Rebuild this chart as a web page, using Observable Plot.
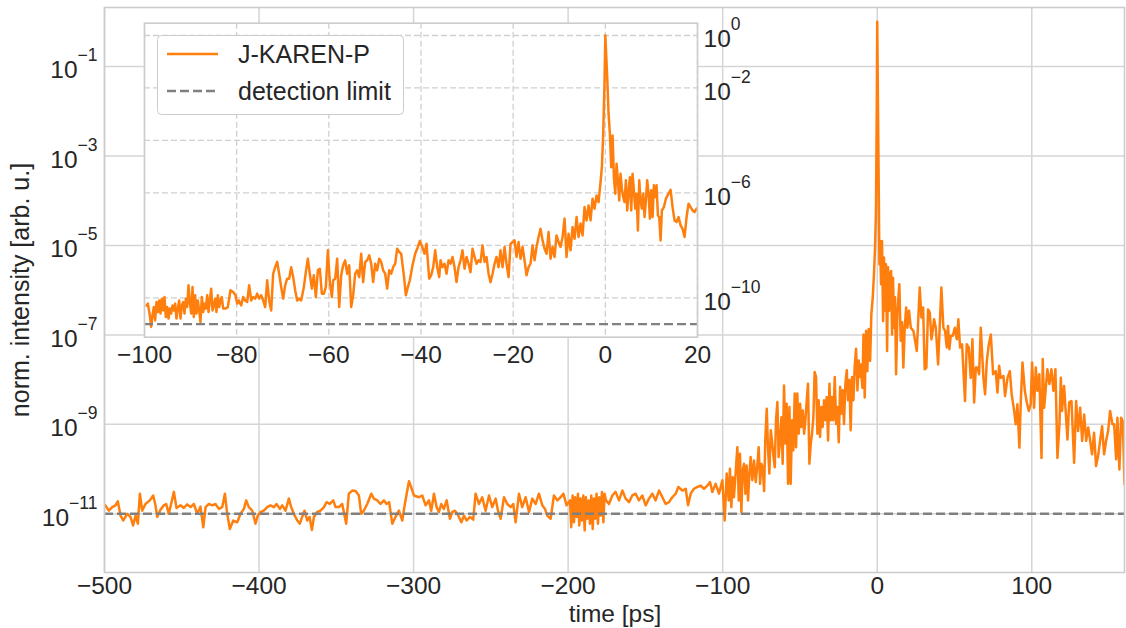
<!DOCTYPE html>
<html><head><meta charset="utf-8">
<script src="https://cdn.jsdelivr.net/npm/d3@7"></script>
<script src="https://cdn.jsdelivr.net/npm/@observablehq/plot@0.6"></script>
<style>
body{margin:0;background:#fff;}
#wrap{position:relative;width:1126px;height:628px;overflow:hidden;font-family:"Liberation Sans",Arial,sans-serif;}
#main,#inset,#legend{position:absolute;left:0;top:0;}
svg{overflow:visible}
</style></head><body>
<div id="wrap"><div id="main"></div><div id="inset"></div><div id="legend"></div></div>
<script>
// ---------- data (time in ps, log10 of normalized intensity) ----------
const mainTime = [
-499.4,-497.2,-495.0,-492.9,-491.4,-489.6,-487.9,-485.3,-483.2,-481.5,
-479.9,-478.4,-477.1,-475.6,-473.5,-470.7,-468.5,-467.0,-465.9,-463.8,
-461.6,-460.1,-458.4,-456.9,-455.1,-453.4,-450.8,-448.7,-446.5,-444.3,
-442.2,-440.0,-437.9,-436.1,-434.6,-432.5,-430.3,-428.2,-426.0,-423.8,
-422.1,-420.6,-418.9,-416.7,-414.1,-412.0,-409.8,-408.3,-406.6,-404.4,
-402.3,-400.8,-399.0,-396.9,-394.7,-392.6,-390.4,-388.7,-386.5,-385.0,
-382.9,-380.7,-379.2,-377.5,-375.3,-373.6,-372.1,-370.6,-368.8,-367.3,
-365.8,-364.5,-362.4,-360.2,-358.0,-356.3,-354.2,-352.0,-350.5,-348.3,
-346.2,-343.6,-341.9,-339.7,-337.5,-335.4,-333.9,-332.2,-330.0,-327.4,
-325.7,-323.5,-321.4,-319.2,-317.5,-315.8,-313.8,-311.7,-309.5,-307.3,
-305.8,-303.0,
-301.9,-299.8,-296.5,-294.4,-292.2,-290.1,-288.6,-286.8,-285.1,-283.6,
-282.1,-280.4,-278.6,-276.5,-275.0,-273.3,-271.7,-269.1,-267.4,-265.7,
-263.5,-261.4,-259.9,-257.7,-255.6,-253.4,-251.2,-249.1,-246.9,-245.4,
-243.7,-241.5,-239.4,-237.2,-235.5,-234.0,-231.8,-229.7,-227.5,-225.3,
-223.2,-221.0,-218.9,-216.7,-215.0,-213.5,-211.3,-209.2,-207.0,-204.9,
-203.1,-201.0,-198.8,-198.0,-197.1,-196.2,-195.4,-194.5,-193.6,-192.8,
-191.9,-191.0,-190.2,-189.3,-188.5,-187.6,-186.7,-185.9,-185.0,-184.1,
-183.3,-182.4,-181.6,-180.7,-179.8,-179.0,-178.1,-177.2,-176.4,-175.5,
-173.6,-171.4,-169.3,-167.1,-164.9,-162.8,-160.6,-158.5,-156.3,-154.2,
-152.0,-149.8,-147.7,-145.5,-143.4,-141.2,-139.0,-136.9,-134.7,-132.6,
-130.4,-128.7,-126.1,-123.9,-122.4,-120.7,-118.6,-116.4,-114.2,-112.1,
-109.9,-108.2,-106.7,-104.5,-102.4,-100.2,
-98.7,-97.4,-96.1,-95.3,-94.4,-93.5,-92.7,-91.6,-90.5,-89.6,
-88.8,-87.9,-87.1,-86.2,-85.3,-84.5,-83.6,-82.7,-81.9,-80.8,
-79.7,-78.6,-77.6,-76.7,-75.8,-75.0,-74.1,-73.2,-72.4,-71.5,
-70.7,-69.8,-68.9,-68.1,-67.2,-66.3,-65.5,-64.6,-63.8,-62.9,
-62.0,-61.2,-60.3,-59.4,-58.6,-57.7,-56.8,-56.0,-55.1,-54.3,
-53.4,-52.5,-51.7,-50.8,-49.9,-49.1,-48.2,-47.3,-46.5,-45.6,
-44.8,-43.9,-43.0,-42.2,-41.3,-40.5,-39.6,-38.7,-37.9,-37.0,
-36.1,-35.3,-34.4,-33.5,-32.7,-31.8,-30.9,-30.1,-29.2,-28.4,
-27.5,-26.6,-25.8,-24.9,-24.0,-23.2,-22.3,-21.5,-20.6,-19.7,
-18.9,-18.0,-17.2,-16.3,-15.4,-14.6,-13.7,-12.8,-12.0,-11.1,
-10.7,-9.6,-8.9,-8.1,-7.2,-6.4,-5.5,-4.6,-3.8,-2.9,
-2.1,-1.4,-0.8,-0.3,0,0.5,1.0,1.4,1.8,2.5,
3.1,3.8,4.4,5.1,5.7,6.4,7.0,7.7,8.3,9.0,
9.6,10.2,10.9,11.5,12.2,13.1,14.3,15.2,16.1,16.9,
17.8,18.7,19.5,20.6,21.7,23.4,25.6,27.5,28.6,29.7,
30.7,31.8,32.9,34.0,35.1,35.9,36.8,37.9,39.4,41.5,
42.8,43.9,45.0,45.8,46.7,47.6,48.9,50.2,51.5,52.5,
53.6,54.9,56.8,57.9,59.2,60.5,61.6,62.7,63.8,64.8,
65.9,67.0,68.7,69.8,70.9,72.2,73.5,75.0,76.7,77.8,
78.9,79.9,81.7,82.7,84.3,85.8,87.0,88.6,89.6,90.7,
92.0,92.9,94.0,95.5,96.8,98.1,99.3,100.2,101.5,102.6,
103.7,104.9,106.3,107.1,108.0,109.1,110.1,111.4,112.7,114.0,
115.3,116.6,117.9,118.8,119.6,120.9,121.8,123.1,124.2,125.7,
127.4,128.7,130.0,131.3,132.6,133.9,135.2,136.5,137.8,139.0,
140.3,141.6,142.9,144.2,145.5,146.8,148.1,149.4,150.7,152.2,
153.3,154.6,155.4,156.7,157.8,158.9,160.0
];
const mainLog10 = [
-10.81,-10.93,-10.85,-10.81,-10.72,-11.04,-11.15,-11.00,-11.07,-11.26,
-11.04,-11.22,-10.55,-10.93,-10.78,-10.70,-10.59,-10.81,-11.07,-10.91,
-10.81,-10.78,-11.00,-10.78,-10.51,-10.87,-10.81,-10.87,-10.79,-10.85,
-10.78,-11.00,-10.84,-11.30,-10.85,-10.78,-10.81,-10.78,-10.89,-10.85,
-10.55,-11.00,-11.34,-11.15,-11.19,-11.00,-10.89,-10.70,-10.85,-10.93,
-11.22,-11.04,-10.96,-10.93,-10.85,-10.81,-10.85,-10.78,-10.89,-10.81,
-10.93,-10.66,-10.85,-11.00,-11.15,-11.22,-11.07,-10.93,-11.15,-11.07,
-11.36,-11.07,-10.96,-10.93,-10.85,-10.74,-10.78,-10.70,-10.85,-10.85,
-10.78,-11.22,-10.55,-10.48,-10.49,-10.59,-11.00,-10.93,-10.78,-10.55,
-10.66,-10.70,-10.78,-10.70,-10.78,-10.74,-11.22,-11.07,-10.93,-11.15,
-10.81,-10.27,
-10.37,-10.59,-10.63,-10.59,-10.81,-10.70,-10.93,-10.55,-10.85,-10.96,
-10.78,-10.89,-10.70,-11.11,-10.96,-10.93,-11.00,-11.19,-11.04,-11.15,
-11.07,-11.13,-10.55,-10.78,-10.63,-10.93,-10.59,-10.85,-10.66,-10.93,
-11.11,-10.63,-10.78,-10.85,-10.78,-11.19,-10.55,-10.85,-10.63,-10.96,
-10.66,-10.78,-10.55,-10.81,-10.89,-11.04,-11.11,-10.59,-10.70,-10.63,
-10.55,-10.81,-10.70,-11.30,-10.59,-11.19,-10.63,-11.07,-10.55,-11.26,
-10.66,-11.15,-10.59,-11.37,-10.63,-11.11,-10.70,-11.22,-10.59,-11.34,
-10.66,-11.11,-10.55,-11.22,-10.63,-11.04,-10.51,-11.19,-10.55,-10.70,
-10.78,-10.59,-10.51,-10.70,-10.48,-10.66,-10.74,-10.59,-10.55,-10.70,
-10.59,-10.81,-10.66,-10.55,-10.70,-10.48,-10.63,-10.78,-10.74,-10.63,
-10.55,-10.40,-10.48,-10.44,-10.81,-10.55,-10.44,-10.40,-10.37,-10.44,
-10.37,-10.29,-10.51,-10.33,-10.55,-10.25,
-11.15,-10.10,-10.70,-9.99,-10.85,-10.18,-10.63,-10.07,-9.51,-10.70,
-9.66,-10.96,-10.03,-9.88,-10.55,-9.92,-10.70,-10.10,-9.73,-10.25,
-9.81,-10.29,-9.92,-9.51,-10.33,-9.88,-9.96,-10.49,-9.32,-8.65,
-9.51,-10.10,-9.13,-9.36,-9.69,-9.96,-8.91,-8.50,-9.73,-9.36,
-8.84,-9.88,-8.13,-9.43,-8.54,-10.33,-8.61,-10.33,-8.91,-9.58,
-8.31,-9.51,-8.31,-9.21,-8.54,-9.06,-8.69,-9.21,-8.91,-8.46,
-8.09,-9.88,-9.43,-9.21,-8.84,-7.83,-7.94,-9.21,-8.46,-9.28,
-8.61,-9.06,-8.46,-8.91,-8.39,-9.36,-8.09,-8.91,-8.39,-8.91,
-7.94,-8.99,-8.61,-9.40,-8.16,-8.76,-8.24,-8.99,-8.09,-7.79,
-8.46,-8.01,-9.13,-7.94,-8.46,-7.72,-7.31,-8.24,-7.57,-7.94,
-7.66,-8.18,-6.99,-8.40,-6.91,-7.81,-6.87,-7.58,-6.54,-6.16,
-5.64,-5.04,-4.22,-1.99,0,-1.91,-3.78,-5.42,-4.90,-5.87,
-4.90,-6.69,-5.27,-6.46,-5.42,-7.36,-5.49,-6.46,-5.64,-5.57,
-6.99,-5.72,-6.84,-6.16,-7.88,-6.46,-5.87,-7.13,-6.72,-7.73,
-6.84,-6.39,-6.84,-6.46,-6.84,-6.91,-7.36,-5.94,-6.61,-6.39,
-7.77,-7.73,-6.43,-6.50,-7.10,-6.91,-6.65,-6.84,-7.66,-5.94,
-6.84,-6.91,-7.28,-6.80,-7.32,-7.02,-7.02,-6.84,-7.10,-6.65,
-7.28,-7.21,-8.48,-7.21,-7.28,-7.96,-7.10,-8.51,-7.73,-7.73,
-7.88,-6.84,-7.96,-8.33,-7.58,-7.21,-6.99,-7.88,-7.81,-8.29,
-7.69,-7.96,-7.92,-8.37,-7.96,-7.81,-8.33,-8.70,-9.00,-8.55,
-9.52,-8.48,-7.62,-8.25,-8.51,-8.70,-8.55,-7.62,-8.63,-7.73,
-8.25,-7.88,-9.75,-7.54,-8.63,-8.18,-7.77,-8.10,-7.77,-8.25,
-7.77,-9.75,-9.00,-7.96,-8.70,-8.14,-8.63,-9.34,-8.51,-8.48,
-9.86,-8.48,-9.15,-8.63,-9.37,-8.78,-9.37,-9.07,-9.37,-9.67,
-9.19,-9.93,-9.71,-9.37,-9.04,-9.67,-9.37,-9.15,-8.70,-9.00,
-9.00,-9.78,-8.85,-10.01,-8.85,-8.93,-10.34
];
const insetTime = [
-99.57,-99.28,-98.84,-98.56,-98.27,-97.98,-97.69,-97.40,-97.11,-96.82,
-96.53,-96.24,-95.95,-95.66,-95.37,-95.08,-94.79,-94.50,-94.21,-93.92,
-93.64,-93.35,-93.06,-92.77,-92.48,-92.19,-91.90,-91.61,-91.32,-91.03,
-90.74,-90.45,-90.16,-89.87,-89.58,-89.30,-89.01,-88.72,-88.43,-88.14,
-87.85,-87.56,-87.27,-86.98,-86.69,-86.40,-86.11,-85.82,-85.53,-85.24,
-84.96,-84.67,-84.38,-84.09,-83.80,-83.51,-83.22,-82.93,-82.42,-81.92,
-81.34,-80.76,-80.25,-79.89,-79.53,-79.02,-78.59,-78.15,-77.72,-77.29,
-76.85,-76.42,-75.98,-75.55,-75.12,-74.68,-74.25,-73.81,-73.38,-72.95,
-72.51,-72.08,-71.64,-71.21,-70.78,-70.34,-69.91,-69.47,-69.04,-68.61,
-68.17,-67.74,-67.30,-66.87,-66.44,-66.00,-65.42,-64.99,-64.56,-64.12,
-63.69,-63.25,-62.82,-62.38,-61.95,-61.52,-61.08,-60.65,-60.21,-59.78,
-59.35,-59.06,-58.62,-58.19,-57.75,-57.32,-56.89,-56.45,-56.02,-55.58,
-55.15,-54.72,-54.28,-53.85,-53.41,-52.98,-52.55,-52.11,-51.68,-51.24,
-50.81,-50.38,-49.94,-49.51,-49.07,-48.64,-48.21,-47.77,-47.34,-46.90,
-46.47,-46.04,-45.60,-45.17,-44.73,-44.30,-43.72,-43.29,-42.85,-42.42,
-41.84,-41.26,-40.68,-40.25,
-39.74,-39.23,-38.80,-38.22,-37.79,-37.35,-36.92,-36.48,-36.05,-35.76,
-35.33,-34.89,-34.46,-34.02,-33.59,-33.16,-32.72,-32.29,-31.85,-31.42,
-30.99,-30.55,-30.12,-29.68,-29.25,-28.82,-28.38,-27.95,-27.51,-27.08,
-26.65,-26.21,-25.78,-25.34,-24.91,-24.47,-24.04,-23.61,-23.17,-22.74,
-22.30,-21.87,-21.44,-21.00,-20.57,-20.13,-19.70,-19.27,-18.83,-18.40,
-17.96,-17.53,-17.10,-16.66,-16.23,-15.79,-15.36,-14.93,-14.49,-14.06,
-13.62,-13.19,-12.76,-12.32,-11.89,-11.45,-11.02,-10.59,-10.15,-9.72,
-9.28,-8.85,-8.42,-7.98,-7.55,-7.11,-6.68,-6.24,-5.81,-5.38,
-4.94,-4.51,-4.07,-3.64,-3.21,-2.77,-2.34,-1.90,-1.47,-1.04,
-0.75,-0.46,-0.17,0,0.41,0.70,0.99,1.28,1.57,1.86,
2.15,2.44,2.73,3.02,3.30,3.59,3.88,4.17,4.46,4.75,
5.04,5.33,5.62,5.91,6.20,6.49,6.78,7.07,7.36,7.64,
7.93,8.22,8.51,8.80,9.09,9.38,9.67,9.96,10.25,10.54,
10.83,11.12,11.41,11.70,11.99,12.27,12.71,13.14,13.72,14.16,
14.59,15.02,15.46,15.89,16.33,16.76,17.19,17.63,18.06,18.50,
18.93,19.36,19.80
];
const insetLog10 = [
-10.29,-10.22,-10.67,-11.11,-10.67,-10.35,-10.86,-10.16,-10.54,-10.10,
-10.60,-10.03,-10.48,-9.97,-10.73,-10.35,-10.79,-10.41,-10.60,-10.29,
-10.48,-10.22,-10.79,-10.41,-10.10,-10.79,-10.29,-10.16,-10.60,-10.03,
-10.35,-9.52,-10.16,-10.60,-9.59,-10.73,-9.90,-10.60,-10.10,-10.48,
-10.92,-9.97,-10.54,-10.22,-10.41,-9.90,-10.54,-10.10,-9.65,-10.48,
-10.29,-10.03,-10.54,-9.90,-10.35,-10.10,-9.97,-10.41,-10.41,-10.35,
-9.71,-9.78,-9.90,-10.22,-10.10,-10.29,-9.97,-10.10,-10.16,-9.52,
-10.10,-9.97,-10.03,-9.84,-10.03,-9.90,-10.10,-10.35,-9.33,-10.10,
-10.48,-9.08,-8.83,-8.63,-9.08,-9.59,-10.03,-9.52,-9.27,-9.27,
-8.83,-9.21,-9.71,-10.10,-10.03,-10.10,-9.59,-9.02,-8.51,-9.08,
-9.65,-9.14,-9.97,-8.95,-8.89,-9.84,-9.84,-9.59,-8.19,-9.40,
-9.97,-9.33,-9.27,-8.51,-10.35,-9.14,-8.76,-8.57,-9.08,-8.76,
-10.35,-9.90,-9.08,-8.95,-9.21,-8.32,-9.40,-8.63,-8.57,-8.38,
-8.70,-9.40,-8.70,-8.95,-8.51,-8.63,-8.95,-9.08,-9.65,-8.95,
-9.08,-8.83,-8.70,-8.13,-8.25,-8.32,-9.14,-9.90,-9.59,-9.33,
-8.76,-8.32,-8.06,-7.83,
-8.06,-8.32,-7.94,-9.27,-9.14,-8.83,-8.19,-8.83,-9.21,-8.57,
-8.83,-8.70,-9.08,-8.57,-8.70,-8.44,-8.83,-9.40,-8.83,-8.57,
-8.19,-8.89,-8.44,-8.70,-9.02,-8.13,-8.44,-8.70,-8.57,-8.63,
-8.00,-8.63,-8.44,-9.08,-9.40,-9.08,-8.70,-8.44,-8.83,-8.19,
-8.83,-8.06,-8.70,-9.21,-7.94,-7.87,-7.81,-8.44,-7.87,-8.51,
-8.06,-8.57,-9.14,-8.83,-8.70,-8.00,-8.57,-8.06,-7.68,-7.37,
-7.81,-8.13,-8.32,-7.49,-8.51,-8.06,-8.44,-7.62,-7.87,-8.06,
-7.68,-6.98,-8.44,-7.56,-8.19,-7.30,-7.75,-6.92,-7.68,-7.17,
-7.62,-6.54,-7.05,-6.48,-7.05,-6.22,-6.60,-6.10,-6.35,-5.59,
-5.02,-3.75,-1.71,0,-1.59,-2.98,-3.75,-5.02,-3.81,-5.40,
-6.03,-4.89,-5.52,-6.29,-5.27,-5.84,-6.16,-6.35,-5.52,-6.67,
-5.97,-5.40,-6.67,-5.27,-5.90,-6.60,-6.03,-7.43,-5.52,-6.29,
-6.60,-6.03,-6.92,-6.29,-5.52,-6.03,-6.98,-5.90,-6.92,-5.71,
-6.16,-5.71,-6.86,-6.92,-7.81,-6.67,-6.54,-6.22,-6.03,-5.88,
-6.54,-7.05,-7.11,-6.92,-7.24,-7.37,-7.68,-6.92,-6.41,-6.54,
-6.67,-6.73,-6.60
];
const detectionLimit = 1e-11;
const mainXTicks = [-500, -400, -300, -200, -100, 0, 100];
const mainYTicks = [1e-1, 1e-3, 1e-5, 1e-7, 1e-9, 1e-11];
const insetXTicks = [-100, -80, -60, -40, -20, 0, 20];
const insetYTicks = [1e0, 1e-2, 1e-4, 1e-6, 1e-8, 1e-10];
const insetYLabelled = [0, -2, -6, -10];
const xLabel = "time [ps]";
const yLabel = "norm. intensity [arb. u.]";
const seriesNames = ["J-KAREN-P", "detection limit"];

// ---------- styling ----------
const ORANGE = "#ff7f0e", GRAY = "#808080", TXT = "#262626";
const FONT = '"Liberation Sans", Arial, sans-serif';
const TICK_FS = 24.5;
const LABEL_FS = 24.5;

const mainData = mainTime.slice(0, mainLog10.length).map((t, i) => ({t, v: 10 ** mainLog10[i]}));
const insetData = insetTime.slice(0, insetLog10.length).map((t, i) => ({t, v: 10 ** insetLog10[i]}));
const fmtNum = d => d < 0 ? "\u2212" + (-d) : String(d);
const fmtPow = d => { const e = Math.round(Math.log10(d)); return "10^" + fmtNum(e); };

function superscripts(svg) {
  d3.select(svg).selectAll('g[aria-label="y-axis tick label"] text').each(function() {
    const s = this.textContent;
    if (!s.includes("^")) return;
    const [b, e] = s.split("^");
    this.textContent = "";
    d3.select(this).append("tspan").text(b);
    d3.select(this).append("tspan").attr("dy", -17).attr("font-size", 17.5).text(e);
  });
}

// ---------- main chart ----------
const main = Plot.plot({
  width: 1126, height: 628,
  marginLeft: 104, marginRight: 2, marginTop: 7, marginBottom: 56,
  style: {fontFamily: FONT, color: TXT, background: "transparent", overflow: "visible"},
  x: {domain: [-500, 160]},
  y: {type: "log", domain: [10 ** -12.312, 10 ** 0.319]},
  marks: [
    Plot.gridX(mainXTicks, {stroke: "#d5d5d5", strokeOpacity: 1, strokeWidth: 1.5}),
    Plot.gridY(mainYTicks, {stroke: "#d5d5d5", strokeOpacity: 1, strokeWidth: 1.5}),
    Plot.axisX(mainXTicks, {tickSize: 0, tickPadding: 4, fontSize: TICK_FS, tickFormat: fmtNum, label: null, fill: TXT}),
    Plot.axisY(mainYTicks, {tickSize: 0, tickPadding: 7, fontSize: TICK_FS, tickFormat: fmtPow, label: null, dy: 4, fill: TXT}),
    Plot.line(mainData, {x: "t", y: "v", stroke: ORANGE, strokeWidth: 2.5, clip: true}),
    Plot.ruleY([detectionLimit], {stroke: GRAY, strokeWidth: 2.4, strokeDasharray: "9,4"}),
    Plot.frame({stroke: "#cccccc", strokeWidth: 1.6})
  ]
});
superscripts(main);
const ms = d3.select(main);
ms.append("text").attr("x", 615).attr("y", 622).attr("text-anchor", "middle")
  .attr("font-size", LABEL_FS).attr("fill", TXT).attr("font-family", FONT).text(xLabel);
ms.append("text").attr("transform", "translate(29,290) rotate(-90)").attr("text-anchor", "middle")
  .attr("font-size", 25).attr("fill", TXT).attr("font-family", FONT).text(yLabel);
document.getElementById("main").appendChild(main);

// ---------- inset ----------
const inset = Plot.plot({
  width: 1126, height: 628,
  marginLeft: 144, marginRight: 429, marginTop: 22.7, marginBottom: 291.3,
  style: {fontFamily: FONT, color: TXT, background: "transparent", overflow: "visible"},
  x: {domain: [-100, 20]},
  y: {type: "log", domain: [10 ** -11.5, 10 ** 0.469]},
  marks: [
    Plot.frame({fill: "white", stroke: "none"}),
    Plot.gridX(insetXTicks, {stroke: "#d0d0d0", strokeOpacity: 1, strokeWidth: 1.3, strokeDasharray: "6,3"}),
    Plot.gridY(insetYTicks, {stroke: "#d0d0d0", strokeOpacity: 1, strokeWidth: 1.3, strokeDasharray: "6,3"}),
    Plot.axisX(insetXTicks, {tickSize: 0, tickPadding: 8, fontSize: TICK_FS, tickFormat: fmtNum, label: null, fill: TXT}),
    Plot.axisY(insetYTicks, {anchor: "right", tickSize: 0, tickPadding: 6, fontSize: TICK_FS, label: null, dy: 4, fill: TXT,
      tickFormat: d => insetYLabelled.includes(Math.round(Math.log10(d))) ? fmtPow(d) : ""}),
    Plot.line(insetData, {x: "t", y: "v", stroke: ORANGE, strokeWidth: 2.5, clip: true}),
    Plot.ruleY([detectionLimit], {stroke: GRAY, strokeWidth: 2.4, strokeDasharray: "9,4"}),
    Plot.frame({stroke: "#cccccc", strokeWidth: 1.6})
  ]
});
superscripts(inset);
document.getElementById("inset").appendChild(inset);

// ---------- legend ----------
const lg = d3.select("#legend").append("svg").attr("width", 1126).attr("height", 628);
lg.append("rect").attr("x", 157.5).attr("y", 35.5).attr("width", 246).attr("height", 79).attr("rx", 4)
  .attr("fill", "white").attr("stroke", "#cccccc").attr("stroke-width", 1);
const legendStyles = [{stroke: ORANGE, dash: null, y: 54}, {stroke: GRAY, dash: "9,4", y: 91}];
seriesNames.forEach((name, i) => {
  const s = legendStyles[i];
  lg.append("line").attr("x1", 167).attr("x2", 218).attr("y1", s.y).attr("y2", s.y)
    .attr("stroke", s.stroke).attr("stroke-width", 2.4).attr("stroke-dasharray", s.dash);
  lg.append("text").attr("x", 238).attr("y", s.y + 8.5).attr("font-size", 25).attr("fill", TXT)
    .attr("font-family", FONT).text(name);
});
</script>
</body></html>
